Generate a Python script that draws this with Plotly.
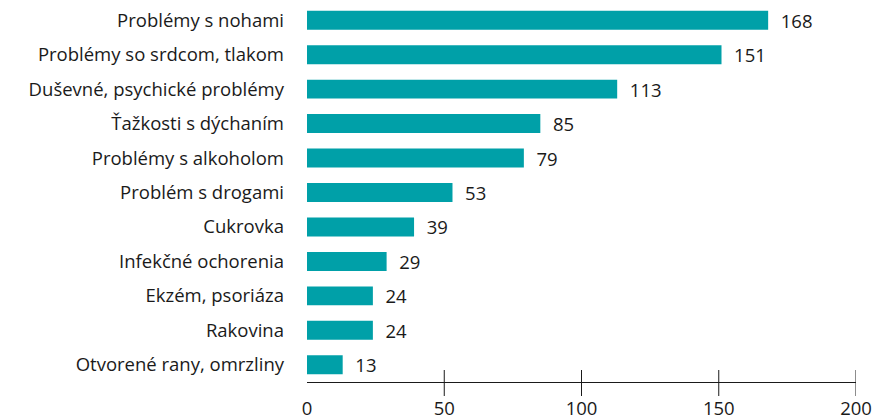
import plotly.graph_objects as go

categories = [
    "Problémy s nohami",
    "Problémy so srdcom, tlakom",
    "Duševné, psychické problémy",
    "Ťažkosti s dýchaním",
    "Problémy s alkoholom",
    "Problém s drogami",
    "Cukrovka",
    "Infekčné ochorenia",
    "Ekzém, psoriáza",
    "Rakovina",
    "Otvorené rany, omrzliny",
]
values = [168, 151, 113, 85, 79, 53, 39, 29, 24, 24, 13]
tick_values = [0, 50, 100, 150, 200]
tick_labels = ["0", "50", "100", "150", "200"]

FONT = "Open Sans"
FS = 18.5
BAR = "#00A0A8"
INK = "#1a1a1a"

fig = go.Figure(
    go.Bar(
        x=values,
        y=categories,
        orientation="h",
        marker=dict(color=BAR, line=dict(width=0)),
        text=[f"  {v}" for v in values],
        textposition="outside",
        constraintext="none",
        cliponaxis=False,
        hoverinfo="skip",
        textfont=dict(family=FONT, size=FS, color=INK),
    )
)

# crossing tick marks at the tick values (except 0)
for tv in tick_values[1:]:
    fig.add_shape(
        type="line", xref="x", yref="paper", ysizemode="pixel", yanchor=0,
        x0=tv, x1=tv, y0=-14, y1=12,
        line=dict(color=INK, width=1),
    )

fig.update_layout(
    width=891, height=420,
    margin=dict(l=307, r=35, t=3, b=38, autoexpand=False),
    paper_bgcolor="white", plot_bgcolor="white",
    bargap=0.45,
    showlegend=False,
    font=dict(family=FONT, size=FS, color=INK),
    xaxis=dict(
        range=[0, 200], tickvals=tick_values, ticktext=tick_labels,
        showgrid=False, zeroline=False, showline=True,
        linecolor=INK, linewidth=1, ticks="", automargin=False,
        ticklabelstandoff=10,
        tickfont=dict(family=FONT, size=FS, color=INK),
    ),
    yaxis=dict(
        autorange="reversed", showgrid=False, zeroline=False, showline=False,
        ticks="", ticklabelstandoff=22, automargin=False,
        tickfont=dict(family=FONT, size=FS, color=INK),
    ),
)

fig.write_html(
    "out.html",
    config={"displayModeBar": False},
    post_script="document.body.style.margin='0';",
)
